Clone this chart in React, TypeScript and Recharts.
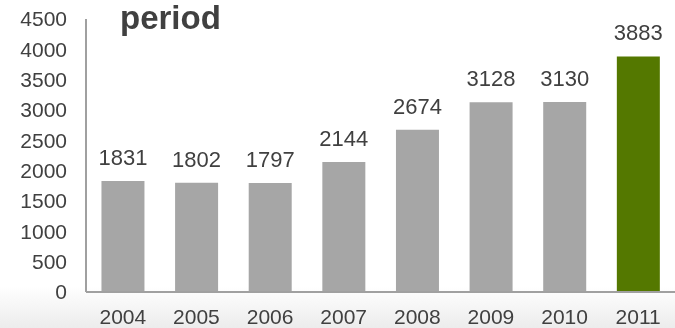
import { BarChart, Bar, XAxis, YAxis, LabelList, Cell } from 'recharts';

const years = ['2004', '2005', '2006', '2007', '2008', '2009', '2010', '2011'];
const counts = [1831, 1802, 1797, 2144, 2674, 3128, 3130, 3883];
const yTicks = [0, 500, 1000, 1500, 2000, 2500, 3000, 3500, 4000, 4500];

const data = years.map((year, i) => ({ year, count: counts[i] }));

const font = '"Liberation Sans", Arial, sans-serif';

export default function App() {
    return (
        <div style={{ position: 'fixed', left: 0, top: 0, width: 675, height: 328, background: 'linear-gradient(to bottom, #ffffff 0px, #ffffff 286px, #ececec 328px)', fontFamily: font }}>
            <div style={{ position: 'absolute', left: 120, top: 0, fontSize: 33, lineHeight: '36px', fontWeight: 'bold', color: '#404040' }}>
                period
            </div>
            <BarChart
                width={675}
                height={328}
                data={data}
                margin={{ top: 19, right: 0, left: 0, bottom: 0 }}
                barCategoryGap="21%"
            >
                <XAxis
                    dataKey="year"
                    height={36}
                    tickSize={0}
                    tickMargin={17}
                    axisLine={{ stroke: '#a0a0a0', strokeWidth: 2 }}
                    tick={{ fill: '#404040', fontSize: 21, fontFamily: font }}
                    interval={0}
                />
                <YAxis
                    width={86}
                    domain={[0, 4500]}
                    ticks={yTicks}
                    tickSize={0}
                    tickMargin={19}
                    axisLine={{ stroke: '#a0a0a0', strokeWidth: 2 }}
                    tick={{ fill: '#404040', fontSize: 21, fontFamily: font }}
                    interval={0}
                />
                <Bar dataKey="count" fill="#a6a6a6" isAnimationActive={false}>
                    {data.map((entry, index) => (
                        <Cell key={`cell-${index}`} fill={entry.year === '2011' ? '#547800' : '#a6a6a6'} />
                    ))}
                    <LabelList dataKey="count" position="top" offset={16} fill="#404040" fontSize={22} fontFamily={font} />
                </Bar>
            </BarChart>
        </div>
    );
}
